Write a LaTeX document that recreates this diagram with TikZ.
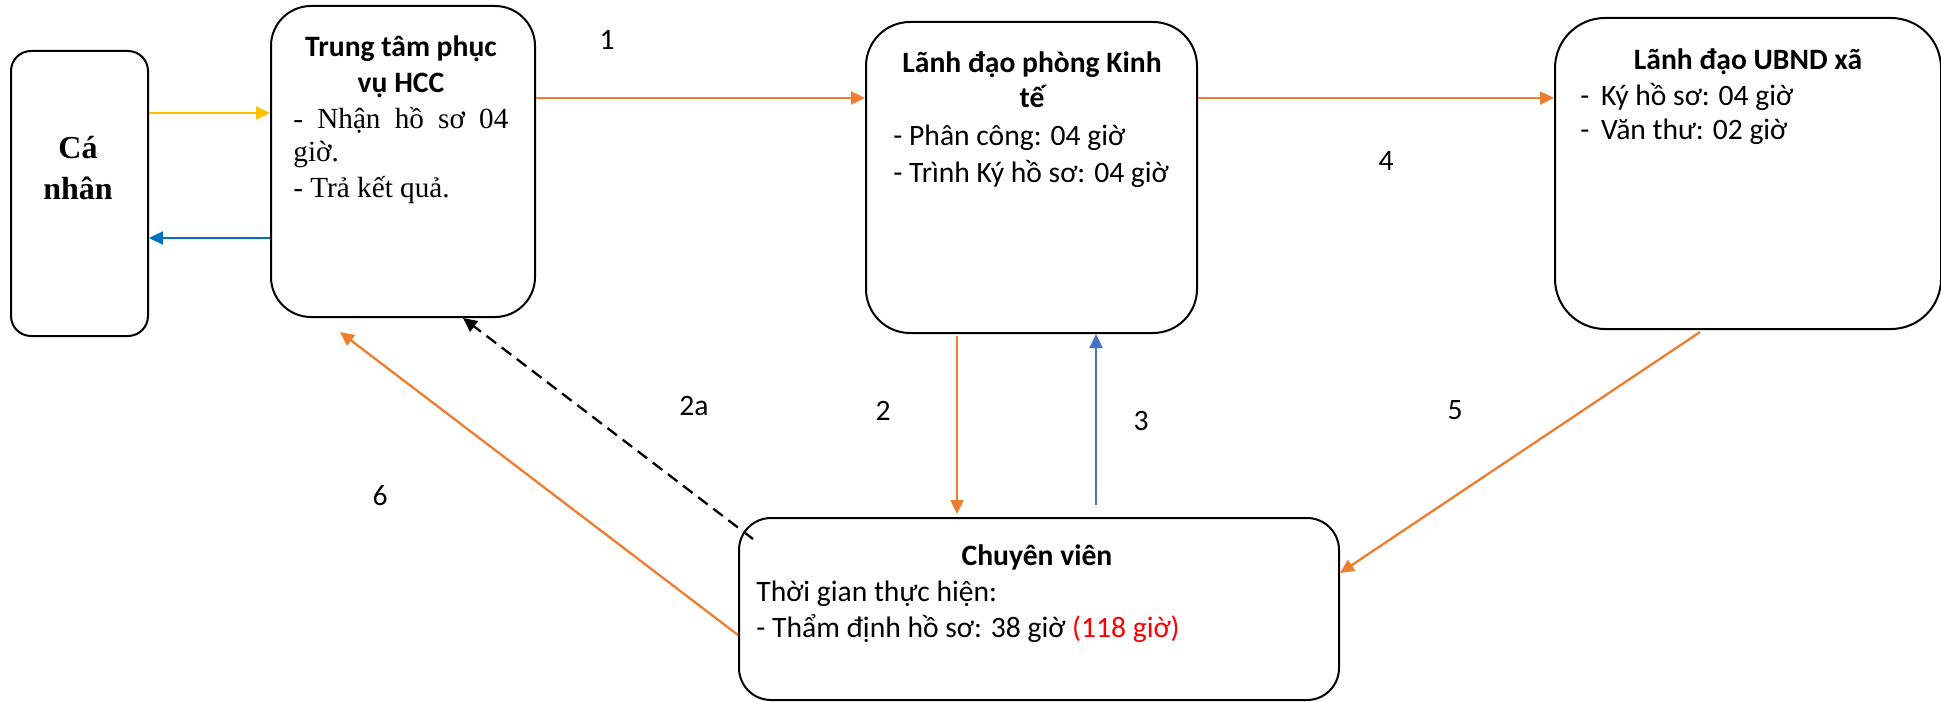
\documentclass[tikz,border=0pt]{standalone}
\usepackage{fontspec}
\setmainfont{Liberation Serif}
\newfontfamily\calfont{Carlito}
\usetikzlibrary{arrows.meta}
\definecolor{orng}{HTML}{ED7D31}
\definecolor{yel}{HTML}{FFC000}
\definecolor{blu}{HTML}{0070C0}
\definecolor{blutwo}{HTML}{4472C4}
\definecolor{redone}{HTML}{FF0000}
\begin{document}
\begin{tikzpicture}[x=0.5pt,y=-0.5pt,
  box/.style={draw=black, line width=1pt, inner sep=0pt, anchor=north west},
  arr/.style={line width=1.15pt, -{Triangle[length=7pt,width=6.5pt]}},
  cal/.style={font=\calfont\fontsize{14.8pt}{18pt}\selectfont, inner sep=0pt},
  calb/.style={font=\calfont\bfseries\fontsize{14.8pt}{18pt}\selectfont, inner sep=0pt},
  tms/.style={font=\fontsize{14.6pt}{17pt}\selectfont, inner sep=0pt},
  tmsb/.style={font=\bfseries\fontsize{16pt}{20pt}\selectfont, inner sep=0pt},
  lbl/.style={cal, anchor=center}]
\useasboundingbox (0,0) rectangle (1941,701);
% boxes
\node[box, rounded corners=10pt, minimum width=68.5pt, minimum height=142.5pt] (canhan) at (10,50) {};
\node[box, rounded corners=20pt, minimum width=132pt, minimum height=155.5pt] (ttam) at (270,5) {};
\node[box, rounded corners=22pt, minimum width=165.5pt, minimum height=155.5pt] (ldp) at (865,21) {};
\node[box, rounded corners=25pt, minimum width=193pt, minimum height=155.5pt] (ubnd) at (1554,17) {};
\node[box, rounded corners=16pt, minimum width=300pt, minimum height=91pt] (cv) at (738,517) {};
% texts
\node[tmsb, anchor=base] (t1) at (78,158) {Cá};
\node[tmsb, anchor=base] (t2) at (78,199) {nhân};
\node[calb, anchor=base] (t3) at (401,57) {Trung tâm phục};
\node[calb, anchor=base] (t4) at (401,93) {vụ HCC};
\node[tms, anchor=base west] (t5) at (293,128) {\makebox[107.5pt][s]{- Nhận hồ sơ 04}};
\node[tms, anchor=base west] (t6) at (293,162) {giờ.};
\node[tms, anchor=base west] (t7) at (293,197) {- Trả kết quả.};
\node[calb, anchor=base] (t8) at (1032,73) {Lãnh đạo phòng Kinh};
\node[calb, anchor=base] (t9) at (1032,108) {tế};
\node[cal, anchor=base west] (t10) at (893,145) {- Phân công: 04 giờ};
\node[cal, anchor=base west] (t11) at (893,182) {- Trình Ký hồ sơ: 04 giờ};
\node[calb, anchor=base] (t12) at (1748,70) {Lãnh đạo UBND xã};
\node[cal, anchor=base west] (t13) at (1580,105) {-~\,Ký hồ sơ: 04 giờ};
\node[cal, anchor=base west] (t14) at (1580,140) {-~\,Văn thư: 02 giờ};
\node[calb, anchor=base] (t15) at (1037,565) {Chuyên viên};
\node[cal, anchor=base west] (t16) at (756,601) {Thời gian thực hiện:};
\node[cal, anchor=base west] (t17) at (756,637) {- Thẩm định hồ sơ: 38 giờ {\color{redone}(118 giờ)}};
% labels
\node[lbl] (l1) at (607,40) {1};
\node[lbl] (l4) at (1386,161) {4};
\node[lbl] (l2a) at (694,406) {2a};
\node[lbl] (l2) at (883,411) {2};
\node[lbl] (l3) at (1141,421) {3};
\node[lbl] (l5) at (1455,410) {5};
\node[lbl] (l6) at (380,496) {6};
% connectors
\draw[arr, yel] (canhan.east |- 0,113) -- (ttam.west |- 0,113);
\draw[arr, blu] (ttam.west |- 0,238) -- (canhan.east |- 0,238);
\draw[arr, orng] (ttam.east |- 0,98) -- (ldp.west |- 0,98);
\draw[arr, orng] (ldp.east |- 0,98) -- (ubnd.west |- 0,98);
\draw[arr, orng, shorten <=1pt, shorten >=1.5pt] (ldp.south -| 957,0) -- (cv.north -| 957,0);
\draw[arr, blutwo, shorten <=6pt] (cv.north -| 1096,0) -- (ldp.south -| 1096,0);
\coordinate (s5) at (1700,332);
\draw[arr, orng] (s5) -- (cv.east |- 0,573);
\coordinate (e6) at (340,332);
\draw[arr, orng] (cv.west |- 0,635) -- (e6);
\coordinate (s2a) at (753,539);
\draw[arr, black, dashed, dash pattern=on 6pt off 3.5pt] (s2a) -- (ttam.south -| 463,0);
\end{tikzpicture}
\end{document}
